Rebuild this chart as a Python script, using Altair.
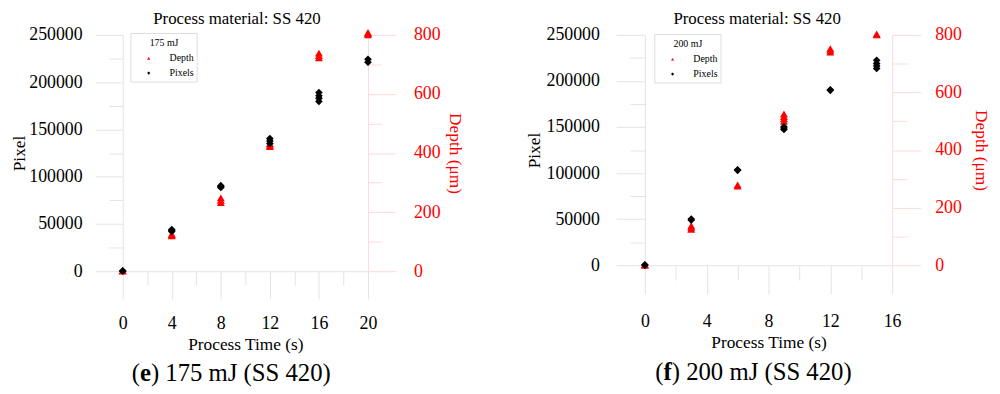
import altair as alt
import pandas as pd

FONT = "Liberation Serif"
RED = "#ff0000"
GRAY = "#e4e4e4"
PINK = "#ffd9d9"

# ---- (e) 175 mJ panel ----
e_pixel_time = [0, 0, 4, 4, 4, 8, 8, 8, 12, 12, 12, 16, 16, 16, 16, 20, 20]
e_pixel_vals = [0, 500, 42000, 43000, 44000, 88500, 89500, 90500, 135000, 137800, 140300,
                179600, 182800, 185600, 189000, 221100, 224200]
e_depth_time = [0, 0, 4, 4, 4, 8, 8, 8, 12, 12, 12, 16, 16, 16, 20, 20, 20]
e_depth_vals = [0, 2, 120, 123, 126, 232, 240, 248, 422, 427, 432, 722, 730, 738, 800, 804, 808]

# ---- (f) 200 mJ panel ----
f_pixel_time = [0, 0, 3, 3, 6, 6, 9, 9, 9, 12, 12, 15, 15, 15, 15]
f_pixel_vals = [0, 500, 49000, 50200, 103000, 103600, 147300, 148800, 150200, 189800, 190400,
                213500, 216300, 218900, 222400]
f_depth_time = [0, 0, 3, 3, 3, 6, 6, 9, 9, 9, 9, 12, 12, 12, 15, 15]
f_depth_vals = [0, 2, 125, 131, 137, 275, 279, 500, 508, 516, 525, 740, 746, 752, 800, 803]

series_names = ["Depth", "Pixels"]
series_colors = [RED, "black"]
series_shapes = ["triangle-up", "diamond"]

pixel_ticks = list(range(0, 250001, 25000))
depth_ticks = list(range(0, 801, 100))
e_time_ticks = list(range(0, 21, 2))
f_time_ticks = list(range(0, 17, 2))

chart_title = "Process material: SS 420"


def cond_size(test, major, minor):
    return {"condition": {"test": test, "value": major}, "value": minor}


def panel(pt, pv, dt, dv, time_ticks, legend_title, letter, rest, w, h, tmaj, tmin,
          lx, ly, cap_x, cap_y, letter_w, xlab_pad, xtitle_pad, ylab_pad, ytitle_pad,
          dlab_pad, dtitle_pad):
    pix_df = pd.DataFrame({"time": pt, "value": pv, "series": "Pixels"})
    dep_df = pd.DataFrame({"time": dt, "value": dv, "series": "Depth"})

    x = alt.X("time:Q",
              scale=alt.Scale(domain=[0, time_ticks[-1]], nice=False, zero=False),
              axis=alt.Axis(values=time_ticks, title="Process Time (s)", grid=False,
                            domainColor=GRAY, tickColor=GRAY, domainWidth=1, tickWidth=1,
                            tickSize=cond_size("datum.value % 4 === 0", tmaj, tmin),
                            labelExpr="datum.value % 4 === 0 ? datum.label : ''",
                            labelPadding=xlab_pad, titlePadding=xtitle_pad, labelFlush=False,
                            labelOverlap=False))
    color = alt.Color("series:N", scale=alt.Scale(domain=series_names, range=series_colors),
                      legend=None)
    shape = alt.Shape("series:N", scale=alt.Scale(domain=series_names, range=series_shapes),
                      legend=None)

    depth = alt.Chart(dep_df).mark_point(filled=True, size=64, opacity=1).encode(
        x=x,
        y=alt.Y("value:Q", scale=alt.Scale(domain=[0, 800], nice=False),
                axis=alt.Axis(orient="right", values=depth_ticks, title="Depth (μm)",
                              grid=False, domainColor=PINK, tickColor=PINK,
                              tickSize=cond_size("datum.value % 200 === 0", tmaj, tmin),
                              labelExpr="datum.value % 200 === 0 ? datum.label : ''",
                              labelColor=RED, titleColor=RED, labelPadding=dlab_pad,
                              titlePadding=dtitle_pad, labelOverlap=False, labelFlush=False)),
        color=color, shape=shape)

    pixels = alt.Chart(pix_df).mark_point(filled=True, size=60, opacity=1).encode(
        x=x,
        y=alt.Y("value:Q", scale=alt.Scale(domain=[0, 250000], nice=False),
                axis=alt.Axis(orient="left", values=pixel_ticks, title="Pixel",
                              grid=False, domainColor=GRAY, tickColor=GRAY,
                              tickSize=cond_size("datum.value % 50000 === 0", tmaj, tmin),
                              labelExpr="datum.value % 50000 === 0 ? datum.label : ''",
                              format="d", labelPadding=ylab_pad, titlePadding=ytitle_pad,
                              labelOverlap=False, labelFlush=False)),
        color=color, shape=shape)

    # legend box (drawn as marks so its inner spacing matches the original)
    leg_df = pd.DataFrame({"series": series_names})
    leg_title_df = pd.DataFrame({"t": [legend_title]})
    leg_box = alt.Chart(leg_title_df).mark_rect(fill="white", stroke="#dddddd",
                                                strokeWidth=1).encode(
        x=alt.value(lx), x2=alt.value(lx + 67), y=alt.value(ly), y2=alt.value(ly + 49))
    leg_title = alt.Chart(leg_title_df).mark_text(fontSize=10, font=FONT, baseline="middle",
                                                  align="center").encode(
        text="t:N", x=alt.value(lx + 33.5), y=alt.value(ly + 10))
    leg_y = alt.Y("series:N", scale=alt.Scale(type="point", padding=0, domain=series_names,
                                              range=[ly + 25, ly + 40]), axis=None)
    leg_sym = alt.Chart(leg_df).mark_point(filled=True, size=10, opacity=1).encode(
        x=alt.value(lx + 18), y=leg_y, color=color, shape=shape)
    leg_lab = alt.Chart(leg_df).mark_text(fontSize=10, font=FONT, align="left",
                                          baseline="middle").encode(
        x=alt.value(lx + 39), y=leg_y, text="series:N")

    cap_df = pd.DataFrame({"open": ["("], "letter": [letter], "rest": [rest]})
    base = alt.Chart(cap_df)
    cap_open = base.mark_text(align="right", baseline="middle", fontSize=25, font=FONT).encode(
        text="open:N", x=alt.value(cap_x - letter_w / 2), y=alt.value(cap_y))
    cap_letter = base.mark_text(align="center", baseline="middle", fontSize=25, font=FONT,
                                fontWeight="bold").encode(
        text="letter:N", x=alt.value(cap_x), y=alt.value(cap_y))
    cap_rest = base.mark_text(align="left", baseline="middle", fontSize=25, font=FONT).encode(
        text="rest:N", x=alt.value(cap_x + letter_w / 2), y=alt.value(cap_y))

    return alt.layer(depth, pixels, leg_box, leg_title, leg_sym, leg_lab,
                     cap_open, cap_letter, cap_rest).resolve_scale(
        y="independent").properties(
        width=w, height=h,
        title=alt.TitleParams(chart_title, fontSize=17, font=FONT, fontWeight="normal",
                              anchor="middle", frame="bounds", offset=-2))


left = panel(e_pixel_time, e_pixel_vals, e_depth_time, e_depth_vals, e_time_ticks,
             "175 mJ", "e", ") 175 mJ (SS 420)", 248, 239, 28, 14,
             8.3, -1.3, 23, 342, 11, 16, 3, 13, 0, 18, 5)
right = panel(f_pixel_time, f_pixel_vals, f_depth_time, f_depth_vals, f_time_ticks,
              "200 mJ", "f", ") 200 mJ (SS 420)", 250, 233, 29, 15,
              10, -0.3, 23, 341, 8.3, 19, 3, 17, 3, 14, 10)

chart = alt.hconcat(left, right, spacing=63).resolve_scale(
    color="independent", shape="independent").properties(
    padding={"left": 3, "top": 0, "right": 3, "bottom": 2}).configure(
    font=FONT).configure_axis(
    labelFont=FONT, titleFont=FONT, labelFontSize=18, titleFontSize=17.5,
    titleFontWeight="normal", labelColor="black", titleColor="black").configure_view(
    stroke=None)

chart.save("out.html", embed_options={"renderer": "svg", "actions": False})
